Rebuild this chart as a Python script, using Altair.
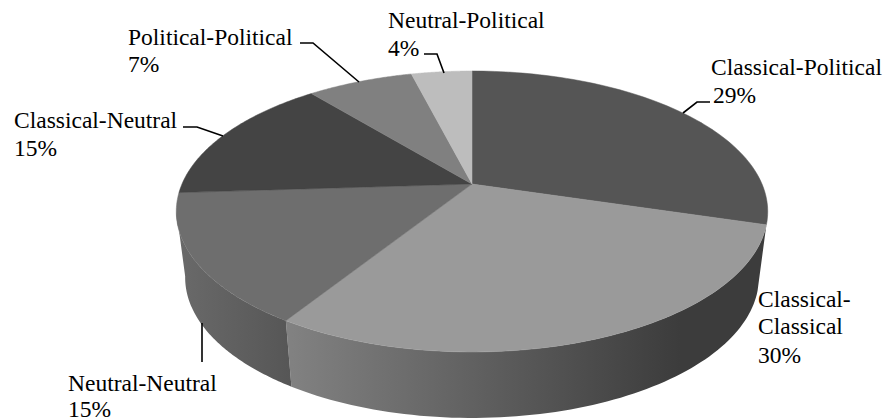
import math
import altair as alt

names = ["Classical-Political", "Classical-Classical", "Neutral-Neutral",
         "Classical-Neutral", "Political-Political", "Neutral-Political"]
percent_labels = ["29%", "30%", "15%", "15%", "7%", "4%"]
slice_sizes = [29.6, 29.4, 15.0, 15.0, 7.0, 4.0]
top_colors = ["#555555", "#9a9a9a", "#6e6e6e", "#444444", "#808080", "#bdbdbd"]

# Text lines: text, x, baseline y in picture pixels
label_text = ["Classical-Political", "29%", "Classical-", "Classical", "30%",
              "Neutral-Neutral", "15%", "Classical-Neutral", "15%",
              "Political-Political", "7%", "Neutral-Political", "4%"]
label_x = [711, 713, 758, 758, 758, 68, 68, 14, 14, 128, 128, 388, 388]
label_y = [75, 103, 307, 334, 363, 391, 417, 128, 156, 45, 72, 28, 56]

# Leader lines in picture pixels
leaders = [
    [[710, 102], [697, 102], [683, 113]],
    [[202, 323], [202, 362]],
    [[183, 127], [197, 127], [223, 136]],
    [[300, 43], [313, 43], [359, 82]],
    [[424, 54], [437, 54], [444, 73]],
]

W, H = 875, 410
OFF = 8
CX, CY, A, B, K = 472, 184, 290, 135.1, 0.1957
DEPTH, SHRINK = 66, 0.97
LEFT_SILHOUETTE = 0.72


def top(frac):
    a = 2 * math.pi * frac
    u, v = math.sin(a), -math.cos(a)
    d = 1 - K * v
    return (CX + A * u / d, CY + B * v / d)


def bottom(frac):
    x, y = top(frac)
    return (CX + SHRINK * (x - CX), y + DEPTH)


def arc(fn, f0, f1, n=80):
    return [fn(f0 + (f1 - f0) * i / n) for i in range(n + 1)]


def px(points):
    return [[round(x - OFF, 2), round(y - OFF, 2)] for x, y in points]


def polygon(points):
    pts = px(points)
    pts.append(pts[0])
    return {"type": "Feature", "properties": {},
            "geometry": {"type": "Polygon", "coordinates": [pts]}}


def wall(f0, f1):
    return polygon(arc(top, f0, f1) + arc(bottom, f1, f0))


total = sum(slice_sizes)
edges = [0.0]
for s in slice_sizes:
    edges.append(edges[-1] + s / total)


def project(c):
    return c.project(type="identity", scale=1, translate=[0, 0])


def shape(feature, **kw):
    return project(alt.Chart(alt.Data(values=[feature])).mark_geoshape(**kw))


layers = []
# Outer walls
layers.append(shape(wall(edges[1], edges[2]), fill=alt.Gradient(
    gradient="linear", x1=0, x2=1, y1=0, y2=0,
    stops=[alt.GradientStop(color="#828282", offset=0),
           alt.GradientStop(color="#3c3c3c", offset=0.82),
           alt.GradientStop(color="#3c3c3c", offset=1)])))
layers.append(shape(wall(edges[2], LEFT_SILHOUETTE), fill=alt.Gradient(
    gradient="linear", x1=0, x2=1, y1=0, y2=0,
    stops=[alt.GradientStop(color="#6a6a6a", offset=0),
           alt.GradientStop(color="#565656", offset=1)])))

# Top surface
for i, color in enumerate(top_colors):
    pts = [(CX, CY)] + arc(top, edges[i], edges[i + 1])
    layers.append(shape(polygon(pts), fill=color, stroke=color, strokeWidth=0.5))

# Leaders
for line in leaders:
    feat = {"type": "Feature", "properties": {},
            "geometry": {"type": "LineString",
                         "coordinates": px([tuple(p) for p in line])}}
    layers.append(shape(feat, filled=False, stroke="black", strokeWidth=1.6))

# Labels
rows = [{"t": t, "x": x - OFF, "y": y - OFF}
        for t, x, y in zip(label_text, label_x, label_y)]
layers.append(project(
    alt.Chart(alt.Data(values=rows))
    .mark_text(font="Liberation Serif", fontSize=23.5, align="left",
               baseline="alphabetic", color="black")
    .encode(longitude="x:Q", latitude="y:Q", text="t:N")
))

chart = (
    alt.layer(*layers)
    .properties(width=W, height=H, padding=0,
                autosize=alt.AutoSizeParams(type="none"), background="white")
    .configure_view(stroke=None)
)
chart.save("out.html", embed_options={"renderer": "svg", "actions": False})
